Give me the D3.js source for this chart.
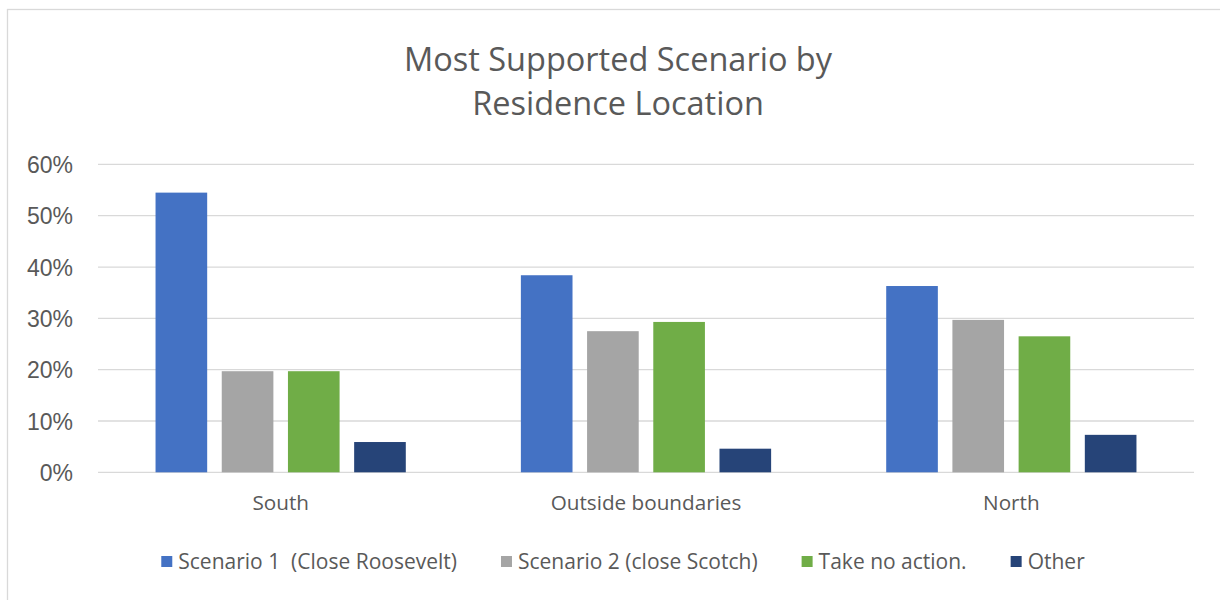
<!DOCTYPE html>
<html>
<head>
<meta charset="utf-8">
<script src="https://cdn.jsdelivr.net/npm/d3@7"></script>
<style>
html,body{margin:0;padding:0;background:#fff;}
svg{display:block;}
text{white-space:pre;}
</style>
</head>
<body>
<svg id="chart" width="1220" height="600"></svg>
<script>
const categories = ["South", "Outside boundaries", "North"];
const seriesNames = ["Scenario 1  (Close Roosevelt)", "Scenario 2 (close Scotch)", "Take no action.", "Other"];
const scenario1 = [0.545, 0.384, 0.363];
const scenario2 = [0.197, 0.275, 0.297];
const noAction = [0.197, 0.293, 0.265];
const other = [0.059, 0.046, 0.073];
const seriesColors = ["#4472C4", "#A5A5A5", "#70AD47", "#264478"];
const yTicks = [0, 0.1, 0.2, 0.3, 0.4, 0.5, 0.6];
const titleLines = ["Most Supported Scenario by", "Residence Location"];

const seriesValues = [scenario1, scenario2, noAction, other];
const svg = d3.select("#chart");
const W = 1220, H = 600;
const plot = {left: 98, right: 1194, top: 164.4, bottom: 472.3};
const textColor = "#595959";
const font = "'Open Sans', sans-serif";

// chart border
svg.append("rect").attr("x", 7.5).attr("y", 9.5).attr("width", W).attr("height", H)
  .attr("fill", "none").attr("stroke", "#D9D9D9").attr("stroke-width", 1.3);

// title
svg.append("text").attr("x", 618).attr("y", 71).attr("text-anchor", "middle")
  .attr("font-family", font).attr("font-size", 32.5).attr("fill", textColor)
  .selectAll("tspan").data(titleLines).join("tspan")
  .attr("x", 618).attr("dy", (d, i) => i === 0 ? 0 : 44).text(d => d);

const y = d3.scaleLinear().domain([0, 0.6]).range([plot.bottom, plot.top]);
const x0 = d3.scaleBand().domain(categories).range([plot.left, plot.right])
  .paddingInner(0.315).paddingOuter(0.1575);
const x1 = d3.scaleBand().domain(d3.range(seriesNames.length)).range([0, x0.bandwidth()])
  .paddingInner(0.22).paddingOuter(0);

// gridlines
svg.append("g").selectAll("line").data(yTicks).join("line")
  .attr("x1", plot.left).attr("x2", plot.right)
  .attr("y1", d => y(d)).attr("y2", d => y(d))
  .attr("stroke", "#D9D9D9").attr("stroke-width", 1.3);

// y axis labels
const yAxis = d3.axisLeft(y).tickValues(yTicks).tickFormat(d3.format(".0%")).tickSize(0).tickPadding(0);
const yg = svg.append("g").attr("transform", `translate(73,0)`).call(yAxis);
yg.select(".domain").remove();
yg.selectAll("text").attr("font-family", "'Liberation Sans', Arial, sans-serif")
  .attr("font-size", 23).attr("fill", textColor).attr("dy", "0.36em");

// bars
const groups = svg.append("g").selectAll("g").data(categories).join("g")
  .attr("transform", d => `translate(${x0(d)},0)`);
groups.selectAll("rect").data((d, ci) => seriesValues.map((vals, si) => ({si, v: vals[ci]})))
  .join("rect")
  .attr("x", d => x1(d.si)).attr("width", x1.bandwidth())
  .attr("y", d => y(d.v)).attr("height", d => y(0) - y(d.v))
  .attr("fill", d => seriesColors[d.si]);

// x axis labels
const xAxis = d3.axisBottom(x0).tickSize(0).tickPadding(0);
const xg = svg.append("g").attr("transform", `translate(0,${plot.bottom})`).call(xAxis);
xg.select(".domain").remove();
xg.selectAll("text").attr("font-family", font).attr("font-size", 20.7)
  .attr("fill", textColor).attr("dy", "0").attr("y", 38);

// legend (centered, measured)
const lg = svg.append("g");
const items = lg.selectAll("g").data(seriesNames).join("g");
items.append("rect").attr("width", 11).attr("height", 11).attr("fill", (d, i) => seriesColors[i]);
items.append("text").attr("x", 17).attr("y", 13).attr("font-family", font)
  .attr("font-size", 21).attr("fill", textColor).text(d => d);
const widths = [];
items.each(function() { widths.push(17 + d3.select(this).select("text").node().getComputedTextLength()); });
const gap = 44;
const total = d3.sum(widths) + gap * (widths.length - 1);
let cx = 623 - total / 2;
items.attr("transform", (d, i) => {
  const tx = cx; cx += widths[i] + gap;
  return `translate(${tx},556)`;
});
</script>
</body>
</html>
